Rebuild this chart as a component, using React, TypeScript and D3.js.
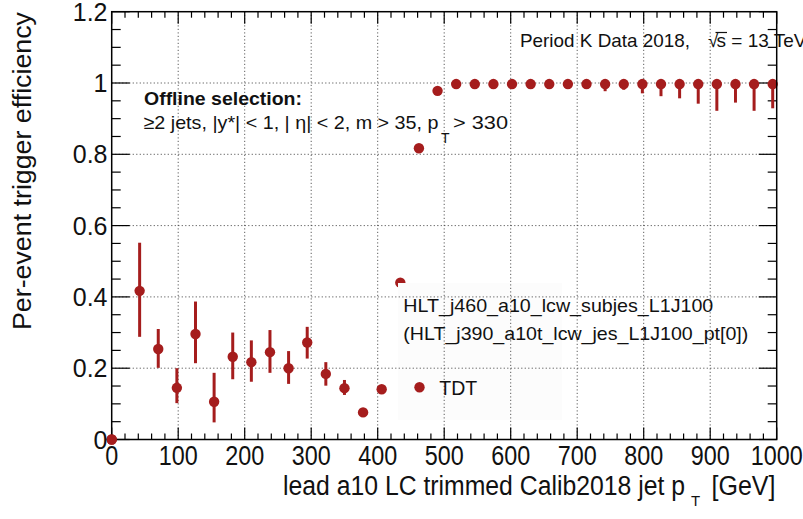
import React from "react";
import * as d3 from "d3";

// ---- data ----
const ptCenters = [0, 42, 70, 98, 126, 154, 182, 210, 238, 266, 294, 322, 350, 378, 406, 434, 462, 490,
  518, 546, 574, 602, 630, 658, 686, 714, 742, 770, 798, 826, 854, 882, 910, 938, 966, 994];
const efficiency = [0, 0.417, 0.254, 0.145, 0.296, 0.106, 0.232, 0.217, 0.245, 0.200, 0.272, 0.184, 0.144, 0.076, 0.141, 0.440, 0.817, 0.978,
  0.997, 0.997, 0.997, 0.997, 0.997, 0.997, 0.997, 0.997, 0.997, 0.997, 0.997, 0.997, 0.997, 0.997, 0.997, 0.997, 0.997, 0.997];
const errLowBound = [0, 0.288, 0.201, 0.102, 0.214, 0.048, 0.169, 0.162, 0.187, 0.156, 0.227, 0.151, 0.125, 0.068, 0.133, 0.432, 0.811, 0.974,
  0.994, 0.994, 0.993, 0.993, 0.992, 0.991, 0.990, 0.986, 0.977, 0.981, 0.971, 0.963, 0.957, 0.942, 0.922, 0.945, 0.922, 0.929];
const errHighBound = [0, 0.552, 0.310, 0.200, 0.387, 0.187, 0.300, 0.278, 0.307, 0.248, 0.316, 0.217, 0.167, 0.085, 0.150, 0.448, 0.823, 0.982,
  1, 1, 1, 1, 1, 1, 1, 1, 1, 1, 1, 1, 1, 1, 1, 1, 1, 1];

const xTickValues = [0, 100, 200, 300, 400, 500, 600, 700, 800, 900, 1000];
const xTickLabels = ["0", "100", "200", "300", "400", "500", "600", "700", "800", "900", "1000"];
const yTickValues = [0, 0.2, 0.4, 0.6, 0.8, 1.0, 1.2];
const yTickLabels = ["0", "0.2", "0.4", "0.6", "0.8", "1", "1.2"];

const W = 803;
const H = 519;
const RED = "#a51d1d";
const FONT = "'Liberation Sans', Arial, Helvetica, sans-serif";

export default function App() {
  const x = d3.scaleLinear().domain([0, 1000]).range([111.7, 776.7]);
  const y = d3.scaleLinear().domain([0, 1.2]).range([439.5, 11.7]);
  const [x0, x1] = x.range();
  const [y0, y1] = y.range();

  const xMinor = d3.range(0, 1000.001, 20);
  const yMinor = d3.range(0, 1.2001, 0.05);

  const points = ptCenters.map((px, i) => ({
    x: px, v: efficiency[i], lo: errLowBound[i], hi: errHighBound[i],
  }));

  const legendBox = { x: 398, y: 283, w: 164, h: 137 };

  const gridLines = (key: string) => (
    <g key={key} stroke="#333" strokeWidth={0.8} strokeDasharray="1.2,2.3">
      {xTickValues.slice(1, -1).map((t) => (
        <line key={"gx" + t} x1={x(t)} x2={x(t)} y1={y0} y2={y1} />
      ))}
      {yTickValues.slice(1, -1).map((t) => (
        <line key={"gy" + t} x1={x0} x2={x1} y1={y(t)} y2={y(t)} />
      ))}
    </g>
  );

  return (
    <svg
      width={W}
      height={H}
      style={{ position: "absolute", left: 0, top: 0, background: "#fff" }}
      fontFamily={FONT}
    >
      <defs>
        <clipPath id="legclip">
          <rect x={legendBox.x} y={legendBox.y} width={legendBox.w} height={legendBox.h} />
        </clipPath>
      </defs>
      <rect x={0} y={0} width={W} height={H} fill="#fff" />

      {gridLines("grid1")}

      {/* ticks */}
      <g stroke="#000" strokeWidth={1.2}>
        {xMinor.map((t) => {
          const major = Math.abs(t % 100) < 1e-6;
          const len = major ? 12 : 6;
          return (
            <g key={"xt" + t}>
              <line x1={x(t)} x2={x(t)} y1={y0} y2={y0 - len} />
              <line x1={x(t)} x2={x(t)} y1={y1} y2={y1 + len} />
            </g>
          );
        })}
        {yMinor.map((t, i) => {
          const major = i % 4 === 0;
          const len = major ? 18 : 9;
          return (
            <g key={"yt" + i}>
              <line x1={x0} x2={x0 + len} y1={y(t)} y2={y(t)} />
              <line x1={x1} x2={x1 - len} y1={y(t)} y2={y(t)} />
            </g>
          );
        })}
      </g>

      {/* data */}
      <g>
        {points.map((p, i) => (
          <g key={"p" + i}>
            {p.hi - p.lo > 0.004 && (
              <line x1={x(p.x)} x2={x(p.x)} y1={y(p.lo)} y2={y(p.hi)} stroke={RED} strokeWidth={3} />
            )}
            <circle cx={x(p.x)} cy={y(p.v)} r={5.2} fill={RED} />
          </g>
        ))}
      </g>

      {/* legend */}
      <rect x={legendBox.x} y={legendBox.y} width={legendBox.w} height={legendBox.h} fill="#fcfcfc" />
      <g clipPath="url(#legclip)">{gridLines("grid2")}</g>
      <text x={403.3} y={311.5} fontSize={19} fill="#111" textLength={310} lengthAdjust="spacingAndGlyphs">
        HLT_j460_a10_lcw_subjes_L1J100
      </text>
      <text x={403.3} y={340} fontSize={19} fill="#111" textLength={345} lengthAdjust="spacingAndGlyphs">
        (HLT_j390_a10t_lcw_jes_L1J100_pt[0])
      </text>
      <circle cx={419.5} cy={387.3} r={5.2} fill={RED} />
      <text x={439.3} y={394.5} fontSize={19.5} fill="#111">TDT</text>

      {/* frame */}
      <rect x={x0} y={y1} width={x1 - x0} height={y0 - y1} fill="none" stroke="#000" strokeWidth={1.5} />
      {/* origin point on top of frame */}
      <circle cx={x(ptCenters[0])} cy={y(efficiency[0])} r={5.2} fill={RED} />

      {/* tick labels */}
      <g fontSize={27} fill="#111" textAnchor="middle">
        {xTickValues.map((t, i) => (
          <text key={"xl" + t} x={x(t)} y={465} textLength={13 * xTickLabels[i].length} lengthAdjust="spacingAndGlyphs">
            {xTickLabels[i]}
          </text>
        ))}
      </g>
      <g fontSize={25} fill="#111" textAnchor="end">
        {yTickValues.map((t, i) => (
          <text key={"yl" + i} x={107.5} y={y(t) + 9}>
            {yTickLabels[i]}
          </text>
        ))}
      </g>

      {/* axis titles */}
      <text x={283} y={495} fontSize={27} fill="#111" textLength={402} lengthAdjust="spacingAndGlyphs">
        lead a10 LC trimmed Calib2018 jet p
      </text>
      <text x={691} y={506} fontSize={15} fill="#111">T</text>
      <text x={711.5} y={495} fontSize={27} fill="#111" textLength={64} lengthAdjust="spacingAndGlyphs">[GeV]</text>

      <text
        transform="translate(31,12) rotate(-90)"
        textAnchor="end"
        fontSize={26}
        fill="#111"
        textLength={318}
        lengthAdjust="spacingAndGlyphs"
      >
        Per-event trigger efficiency
      </text>

      {/* annotations */}
      <text x={520} y={47} fontSize={19} fill="#111" textLength={170} lengthAdjust="spacingAndGlyphs">
        Period K Data 2018,
      </text>
      <text x={708} y={47} fontSize={19} fill="#111">√</text>
      <line x1={715.5} x2={727} y1={32.5} y2={32.5} stroke="#111" strokeWidth={1.2} />
      <text x={716.5} y={47} fontSize={19} fill="#111">s = 13 TeV</text>

      <text x={144} y={105} fontSize={19} fontWeight="bold" fill="#111" textLength={158} lengthAdjust="spacingAndGlyphs">
        Offline selection:
      </text>
      <text x={143.5} y={128.5} fontSize={19} fill="#111" textLength={295} lengthAdjust="spacingAndGlyphs">
        ≥2 jets, |y*| &lt; 1, | η| &lt; 2, m &gt; 35, p
      </text>
      <text x={441} y={143} fontSize={14} fill="#111">T</text>
      <text x={453} y={128.5} fontSize={19} fill="#111" textLength={55} lengthAdjust="spacingAndGlyphs">
        &gt; 330
      </text>
    </svg>
  );
}
